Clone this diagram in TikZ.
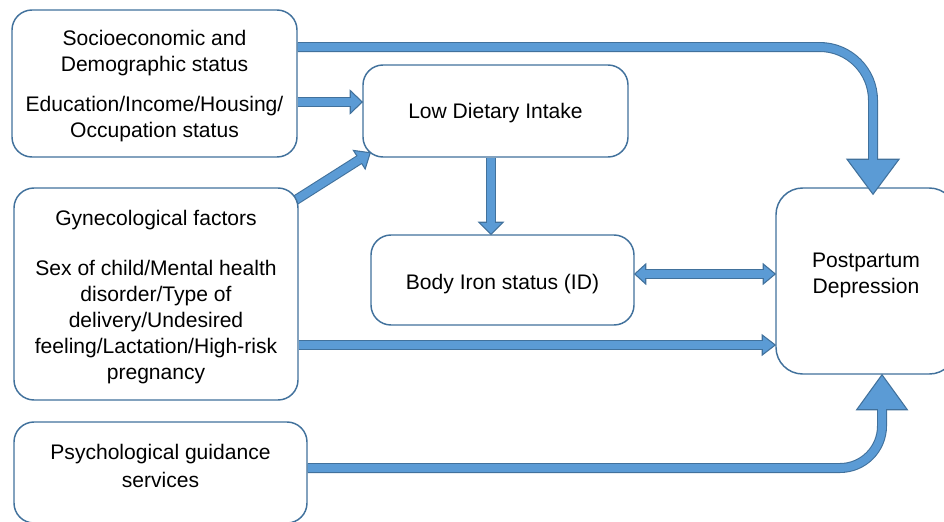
\documentclass[tikz,border=0pt]{standalone}
\usepackage{fontspec}
\setmainfont{Liberation Sans}
\usepackage{xcolor}
\definecolor{boxline}{RGB}{65,113,156}
\definecolor{arrfill}{RGB}{91,155,213}
\usepackage{tikz}
\usetikzlibrary{calc}
\usetikzlibrary{backgrounds}
\tikzset{
  box/.style={draw=boxline,line width=1.1pt,fill=white,rounded corners=15pt},
  txt/.style={align=center,inner sep=0pt,font=\fontsize{15.8pt}{19.5pt}\selectfont},
  shaft/.style={draw=boxline,line width=0.8pt,double=arrfill,double distance=5.9pt},
  head/.style={fill=arrfill,draw=boxline,line width=0.8pt,line join=miter},
}
% block arrow head: base, tip, half width
\newcommand{\blockhead}[3]{%
  \filldraw[head] ($(#1)!#3!90:(#2)$) -- (#2) -- ($(#1)!#3!-90:(#2)$) -- cycle;
  \draw[arrfill,line width=5.9pt] ($(#1)!-0.6pt!(#2)$) -- ($(#1)!0.7pt!(#2)$);}

\begin{document}
\begin{tikzpicture}[x=0.75pt,y=-0.75pt]
\useasboundingbox (0,0) rectangle (944,521);

%factor boxes
\node (socio) at (154.5,83.5) [box,minimum width=213.75pt,minimum height=110.25pt] {};
\node (gyne) at (156,294) [box,minimum width=213pt,minimum height=159pt] {};
\node (psych) at (160.5,472.5) [box,minimum width=219.75pt,minimum height=75.75pt] {};
\node (sociotext) at (154.5,86) [txt] {Socioeconomic and\\Demographic status\\[10.5pt]Education/Income/Housing/\\Occupation status};
\node (gynetext) at (156,297) [txt] {Gynecological factors\\[18pt]Sex of child/Mental health\\disorder/Type of\\delivery/Undesired\\feeling/Lactation/High-risk\\pregnancy};
\node (psychtext) at (160.5,466) [txt] {Psychological guidance\\[1.5pt]services};

%middle boxes
\node (ldi) at (495.5,111) [box,minimum width=198.75pt,minimum height=69pt] {};
\node (bi) at (502.5,280) [box,minimum width=197.25pt,minimum height=67.5pt] {};
\node (lditext) at (495.5,113) [txt] {Low Dietary Intake};
\node (bitext) at (502.5,284) [txt] {Body Iron status (ID)};

%outcome
\node (ppd) at (866,281) [box,minimum width=135pt,minimum height=139.5pt,rounded corners=20pt] {};
\node (ppdtext) at (866,275) [txt] {Postpartum\\Depression};

%head tips and bases
\coordinate (t1) at ($(ppd.north -| 873,0)+(0,7)$);
\coordinate (b1) at ($(t1)+(0,-35)$);
\coordinate (t2) at (ldi.west |- 0,102);
\coordinate (b2) at ($(t2)+(-12,0)$);
\coordinate (s3) at ($(gyne.north east)+(-5,14)$);
\coordinate (t3) at ($(ldi.south west)+(8,-5)$);
\coordinate (b3) at ($(t3)!9.75pt!(s3)$);
\coordinate (t4) at (bi.north -| 491,0);
\coordinate (b4) at ($(t4)+(0,-12)$);
\coordinate (t5a) at (bi.east |- 0,274);
\coordinate (b5a) at ($(t5a)+(11,0)$);
\coordinate (t5b) at (ppd.west |- 0,274);
\coordinate (b5b) at ($(t5b)+(-12,0)$);
\coordinate (t6) at (ppd.west |- 0,345);
\coordinate (b6) at ($(t6)+(-13,0)$);
\coordinate (t7) at (ppd.south -| 882,0);
\coordinate (b7) at ($(t7)+(0,35)$);

%shafts
\begin{scope}[on background layer]
\draw[shaft,rounded corners=40pt] (socio.east |- 0,47) -| (b1);
\draw[shaft] (socio.east |- t2) -- (b2);
\draw[shaft] (s3) -- (b3);
\draw[shaft] (ldi.south -| t4) -- (b4);
\draw[shaft] (b5a) -- (b5b);
\draw[shaft] (gyne.east |- t6) -- (b6);
\draw[shaft,rounded corners=31.5pt] (psych.east |- 0,468) -| (b7);
\end{scope}

%heads
\blockhead{b1}{t1}{19.5pt}
\blockhead{b2}{t2}{8.6pt}
\blockhead{b3}{t3}{8.25pt}
\blockhead{b4}{t4}{9pt}
\blockhead{b5a}{t5a}{7.5pt}
\blockhead{b5b}{t5b}{7.5pt}
\blockhead{b6}{t6}{7.5pt}
\blockhead{b7}{t7}{19pt}
\end{tikzpicture}
\end{document}
